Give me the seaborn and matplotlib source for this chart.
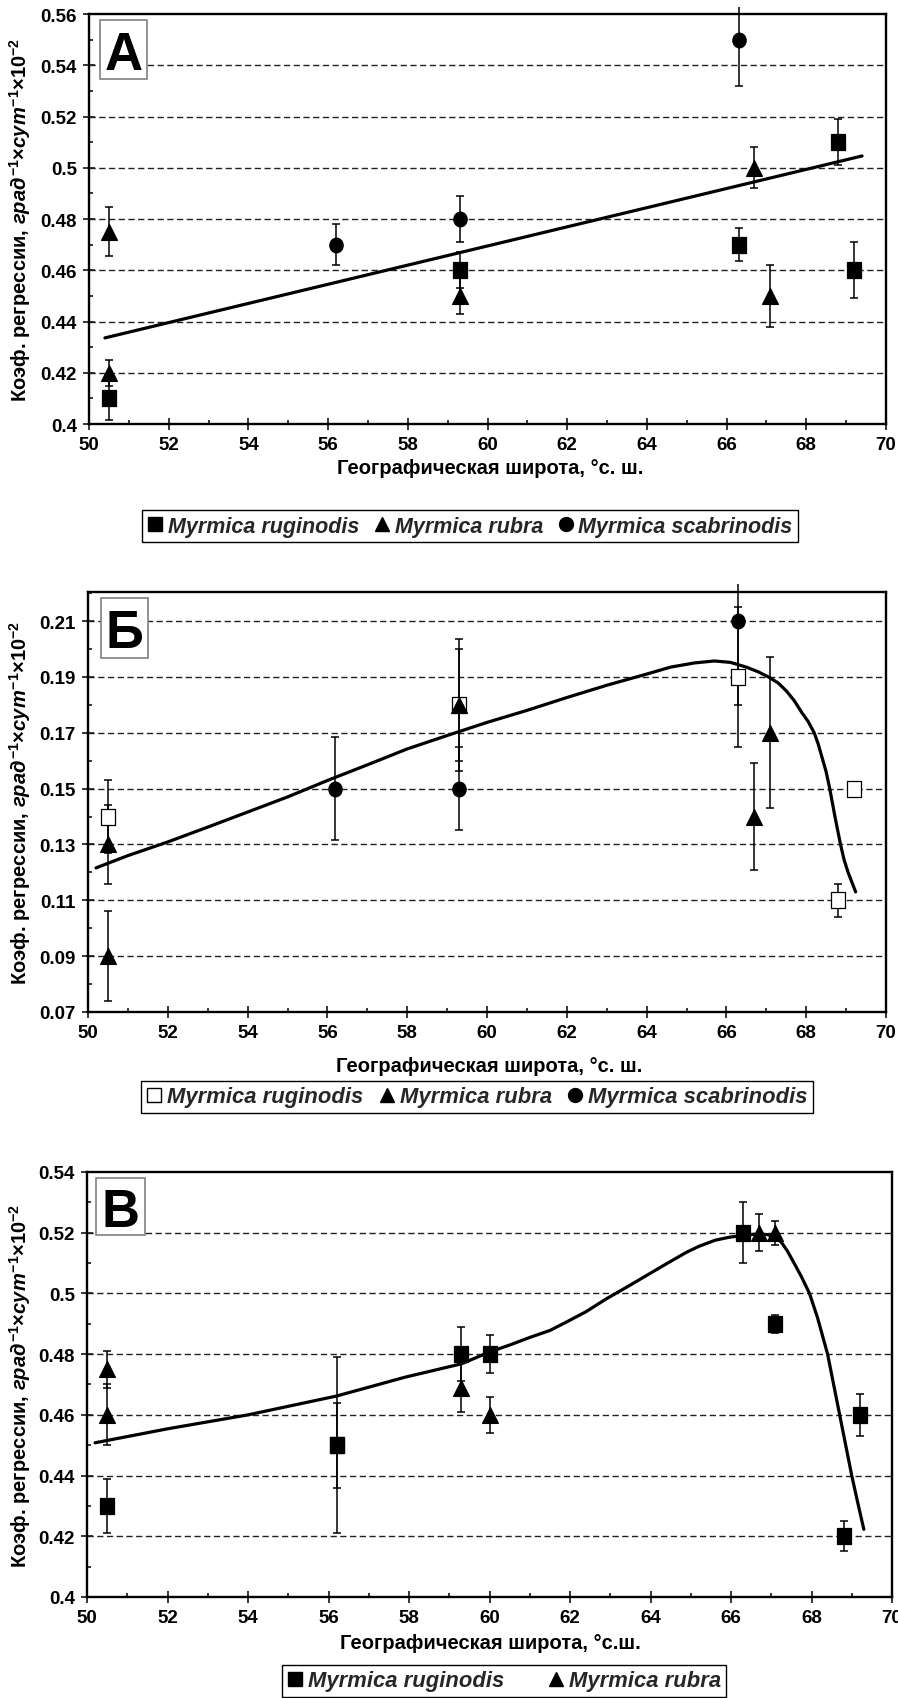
import numpy as np
import pandas as pd
import matplotlib
matplotlib.use("Agg")
import matplotlib.pyplot as plt
import seaborn as sns
from matplotlib.lines import Line2D
from matplotlib.markers import MarkerStyle
from matplotlib.patches import Rectangle
from matplotlib.transforms import Affine2D, Bbox, TransformedBbox
from matplotlib.ticker import MultipleLocator, FixedLocator, FuncFormatter
from matplotlib.font_manager import FontProperties

# ---------------- data ----------------
# Panel A
a_rug_lat = [50.5, 59.3, 66.3, 68.8, 69.2]
a_rug_val = [0.41, 0.46, 0.47, 0.51, 0.46]
a_rug_err = [0.0084, 0.007, 0.0063, 0.009, 0.011]
a_rub_lat = [50.5, 50.5, 59.3, 66.7, 67.1]
a_rub_val = [0.475, 0.42, 0.45, 0.50, 0.45]
a_rub_err = [0.0095, 0.005, 0.007, 0.008, 0.012]
a_sca_lat = [56.2, 59.3, 66.3]
a_sca_val = [0.47, 0.48, 0.55]
a_sca_err = [0.008, 0.009, 0.018]
a_trend_lat = [50.4, 69.4]
a_trend_val = [0.4336, 0.5046]

# Panel B (Б)
b_rug_lat = [50.5, 59.3, 66.3, 68.8, 69.2]
b_rug_val = [0.14, 0.18, 0.19, 0.11, 0.15]
b_rug_err = [0.013, 0.0237, 0.025, 0.006, 0.001]
b_rub_lat = [50.5, 50.5, 59.3, 66.7, 67.1]
b_rub_val = [0.13, 0.09, 0.18, 0.14, 0.17]
b_rub_err = [0.014, 0.016, 0.02, 0.019, 0.027]
b_sca_lat = [56.2, 59.3, 66.3]
b_sca_val = [0.15, 0.15, 0.21]
b_sca_err = [0.0185, 0.015, 0.03]
b_trend_lat = [50.2, 51.0, 52.0, 53.0, 54.0, 55.0, 56.0, 57.0, 58.0, 59.0, 60.0,
               61.0, 62.0, 63.0, 64.0, 64.6, 65.2, 65.7, 66.1, 66.5, 66.8, 67.05,
               67.3, 67.5, 67.7, 67.9, 68.05, 68.2, 68.3, 68.4, 68.5, 68.59, 68.72,
               68.86, 68.95, 69.05, 69.15, 69.24]
b_trend_val = [0.1216, 0.1260, 0.1309, 0.1362, 0.1416, 0.1470, 0.1529, 0.1585,
               0.1642, 0.1690, 0.1737, 0.1780, 0.1826, 0.1870, 0.1910, 0.1935,
               0.1950, 0.1957, 0.1952, 0.1935, 0.1918, 0.1900, 0.1878, 0.1850,
               0.1815, 0.1770, 0.1740, 0.1700, 0.1660, 0.1610, 0.1560, 0.1500,
               0.1400, 0.1300, 0.1245, 0.1200, 0.1163, 0.1130]

# Panel C (В)
c_rug_lat = [50.5, 56.2, 56.2, 59.3, 60.0, 66.3, 67.1, 68.8, 69.2]
c_rug_val = [0.43, 0.45, 0.45, 0.48, 0.48, 0.52, 0.49, 0.42, 0.46]
c_rug_err = [0.009, 0.029, 0.014, 0.009, 0.0062, 0.01, 0.003, 0.005, 0.007]
c_rub_lat = [50.5, 50.5, 59.3, 60.0, 66.7, 67.1]
c_rub_val = [0.475, 0.46, 0.469, 0.46, 0.52, 0.52]
c_rub_err = [0.006, 0.01, 0.008, 0.006, 0.006, 0.004]
c_trend_lat = [50.2, 52.0, 54.0, 56.2, 57.9, 59.3, 60.0, 60.5, 61.0, 61.5, 61.9,
               62.4, 62.9, 63.4, 63.9, 64.4, 64.9, 65.2, 65.6, 65.95, 66.3, 66.6,
               66.9, 67.1, 67.25, 67.4, 67.6, 67.75, 67.95, 68.15, 68.4, 68.55,
               68.7, 68.85, 69.0, 69.15, 69.3]
c_trend_val = [0.4508, 0.4554, 0.4600, 0.4662, 0.4724, 0.4768, 0.4807, 0.4830,
               0.4855, 0.4878, 0.4905, 0.4940, 0.4982, 0.5020, 0.5059, 0.5098,
               0.5136, 0.5155, 0.5175, 0.5185, 0.5191, 0.5195, 0.5194, 0.5185,
               0.5169, 0.5140, 0.5092, 0.5055, 0.5000, 0.4920, 0.4800, 0.4700,
               0.4600, 0.4500, 0.4400, 0.4310, 0.4223]

a_yticks = [0.40, 0.42, 0.44, 0.46, 0.48, 0.50, 0.52, 0.54, 0.56]
b_yticks = [0.07, 0.09, 0.11, 0.13, 0.15, 0.17, 0.19, 0.21]
c_yticks = [0.40, 0.42, 0.44, 0.46, 0.48, 0.50, 0.52, 0.54]
x_ticks = [50, 52, 54, 56, 58, 60, 62, 64, 66, 68, 70]

species = ["Myrmica ruginodis", "Myrmica rubra", "Myrmica scabrinodis"]
xlabel_ab = "Географическая широта, °с. ш."
xlabel_c = "Географическая широта, °с.ш."
ylabel = r"Коэф. регрессии, $\mathit{град}^{-1}$×$\mathit{сут}^{-1}$×10$^{-2}$"

# ---------------- style ----------------
sns.set_theme(style="white")
plt.rcParams["font.family"] = ["Liberation Sans", "DejaVu Sans"]
plt.rcParams["mathtext.fontset"] = "custom"
plt.rcParams["mathtext.rm"] = "Liberation Sans:bold"
plt.rcParams["mathtext.it"] = "Liberation Sans:italic:bold"
plt.rcParams["mathtext.bf"] = "Liberation Sans:bold"

NARROW = ["Liberation Sans Narrow", "Liberation Sans"]
W, H = 898, 1699
fig = plt.figure(figsize=(W / 100, H / 100), dpi=100)
fig.patch.set_facecolor("white")

SQ = MarkerStyle("s", transform=Affine2D().scale(1, 1.15))
TR = MarkerStyle("^")
CI = MarkerStyle("o", transform=Affine2D().scale(1, 1.1))


def make_axes(left, top, right, bottom):
    return fig.add_axes([left / W, 1 - bottom / H, (right - left) / W, (bottom - top) / H])


def errbars(ax, lat, val, err):
    eb = ax.errorbar(lat, val, yerr=err, fmt="none", ecolor="black",
                     elinewidth=1.1, capsize=2.6, capthick=1.1, zorder=2.6)
    # bars may poke a little above the plotting area, as in the original charts
    clip = TransformedBbox(Bbox([[0, -0.02], [1, 1.018]]), ax.transAxes)
    _, caps, bars = eb.lines
    for art in list(caps) + list(bars):
        art.set_clip_path(None)
        art.set_clip_box(clip)


def points(ax, lat, val, marker, s, face="black"):
    sns.scatterplot(x=lat, y=val, marker=marker, s=s, color=face,
                    edgecolor="black", linewidth=0.9, ax=ax, zorder=3, legend=False)


def trend(ax, lat, val):
    sns.lineplot(x=lat, y=val, sort=False, estimator=None, color="black",
                 linewidth=2.3, ax=ax, zorder=2.5)


def style_axes(ax, ylim, yticks):
    ax.set_xlim(50, 70)
    ax.set_ylim(*ylim)
    ax.set_xlabel("")
    ax.set_ylabel("")
    ax.xaxis.set_major_locator(FixedLocator(x_ticks))
    ax.xaxis.set_minor_locator(MultipleLocator(1))
    ax.yaxis.set_major_locator(FixedLocator(yticks))
    ax.yaxis.set_minor_locator(MultipleLocator(0.01))
    ax.yaxis.set_major_formatter(FuncFormatter(lambda v, p: f"{v:g}"))
    ax.xaxis.set_major_formatter(FuncFormatter(lambda v, p: f"{v:g}"))
    ax.tick_params(which="major", direction="inout", length=8.5, width=1.1,
                   color="black", pad=4.5, bottom=True, left=True)
    ax.tick_params(which="minor", direction="in", length=3, width=1.1,
                   color="black", bottom=True, left=True)
    for lab in ax.get_xticklabels() + ax.get_yticklabels():
        lab.set_fontfamily(NARROW)
        lab.set_fontweight("bold")
        lab.set_fontsize(13.5)
        lab.set_color("black")
    for sp in ax.spines.values():
        sp.set_visible(True)
        sp.set_color("black")
        sp.set_linewidth(1.7)
    ax.grid(False)
    ax.set_facecolor("white")


def gridlines(ax, ylim, yticks):
    for v in yticks:
        if ylim[0] < v < ylim[1]:
            ax.axhline(v, color="#202020", linewidth=1.0, linestyle=(0, (4.5, 2.5)), zorder=1)


def panel_letter(letter, x0, y0, x1, y1):
    fig.add_artist(Rectangle((x0 / W, 1 - y1 / H), (x1 - x0) / W, (y1 - y0) / H,
                             transform=fig.transFigure, facecolor="white",
                             edgecolor="#808080", linewidth=1.2, zorder=1))
    fig.text((x0 + x1) / 2 / W, 1 - (y0 + y1) / 2 / H, letter, ha="center",
             va="center_baseline", fontsize=38, fontweight="bold", color="black", zorder=4)


def labels(cx_x, y_xlab, xlab, top, bottom):
    fig.text(cx_x / W, 1 - y_xlab / H, xlab, ha="center", va="center",
             fontsize=14.5, fontweight="bold", family=NARROW, color="black")
    fig.text(20 / W, 1 - (top + bottom) / 2 / H, ylabel, rotation=90, ha="center",
             va="center", fontsize=14.5, fontweight="bold", color="black")


def legend(handles, names, cx, cy, colspace, size):
    lg = fig.legend(handles, names, loc="center", bbox_to_anchor=(cx / W, 1 - cy / H),
                    bbox_transform=fig.transFigure, ncol=len(names), frameon=True,
                    fancybox=False, edgecolor="black", framealpha=1, borderpad=0.25,
                    handlelength=0.7, handletextpad=0.25, columnspacing=colspace,
                    borderaxespad=0,
                    prop=FontProperties(family=NARROW, weight="bold", style="italic", size=size))
    lg.get_frame().set_linewidth(1.0)


def h(marker, face="black", ms=10):
    return Line2D([], [], marker=marker, linestyle="None", markerfacecolor=face,
                  markeredgecolor="black", markersize=ms)


# ---------------- panel A ----------------
ylim_a = (0.40, 0.56)
axA = make_axes(89, 15, 886, 425)
gridlines(axA, ylim_a, a_yticks)
trend(axA, a_trend_lat, a_trend_val)
for lat, val, err in [(a_rug_lat, a_rug_val, a_rug_err), (a_rub_lat, a_rub_val, a_rub_err),
                      (a_sca_lat, a_sca_val, a_sca_err)]:
    errbars(axA, lat, val, err)
points(axA, a_rug_lat, a_rug_val, SQ, 100)
points(axA, a_rub_lat, a_rub_val, TR, 130)
points(axA, a_sca_lat, a_sca_val, CI, 92)
style_axes(axA, ylim_a, a_yticks)
panel_letter("А", 100, 21, 147, 80)
labels(490, 469, xlabel_ab, 15, 425)
legend([h("s"), h("^"), h("o")], species, 470, 527, 0.7, 15.5)

# ---------------- panel Б ----------------
ylim_b = (0.07, 0.2204)
axB = make_axes(88, 593, 886, 1013)
gridlines(axB, ylim_b, b_yticks)
trend(axB, b_trend_lat, b_trend_val)
for lat, val, err in [(b_rug_lat, b_rug_val, b_rug_err), (b_rub_lat, b_rub_val, b_rub_err),
                      (b_sca_lat, b_sca_val, b_sca_err)]:
    errbars(axB, lat, val, err)
points(axB, b_rug_lat, b_rug_val, SQ, 100, face="white")
points(axB, b_rub_lat, b_rub_val, TR, 130)
points(axB, b_sca_lat, b_sca_val, CI, 92)
style_axes(axB, ylim_b, b_yticks)
panel_letter("Б", 101, 599, 148, 659)
labels(489, 1067, xlabel_ab, 593, 1013)
legend([h("s", "white"), h("^"), h("o")], species, 477, 1098, 0.7, 15.8)

# ---------------- panel В ----------------
ylim_c = (0.40, 0.54)
axC = make_axes(87, 1173, 892, 1598)
gridlines(axC, ylim_c, c_yticks)
trend(axC, c_trend_lat, c_trend_val)
for lat, val, err in [(c_rug_lat, c_rug_val, c_rug_err), (c_rub_lat, c_rub_val, c_rub_err)]:
    errbars(axC, lat, val, err)
points(axC, c_rug_lat, c_rug_val, SQ, 100)
points(axC, c_rub_lat, c_rub_val, TR, 130)
style_axes(axC, ylim_c, c_yticks)
panel_letter("В", 96, 1179, 145, 1236)
labels(490, 1644, xlabel_c, 1173, 1598)
legend([h("s"), h("^")], species[:2], 504, 1682, 2.0, 15.8)

fig.savefig("out.png", dpi=100, facecolor="white")
